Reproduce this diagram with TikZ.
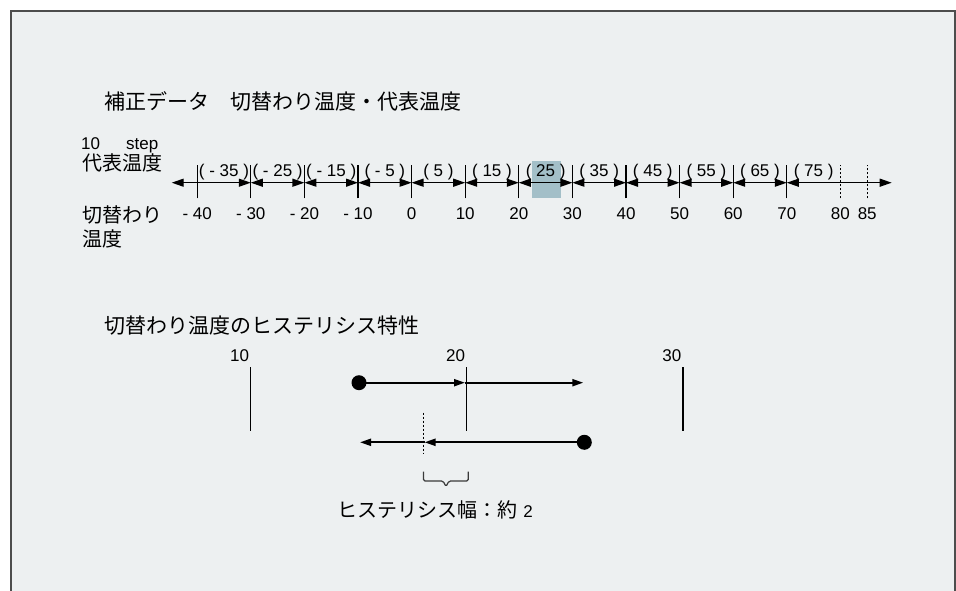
\documentclass[tikz,border=0pt]{standalone}
\usepackage{fontspec}
\setmainfont{Liberation Sans}
\newfontfamily\jp{Noto Sans CJK JP}
\usetikzlibrary{arrows.meta}
\definecolor{bgc}{HTML}{EDF0F1}
\definecolor{framec}{HTML}{4D4D4D}
\definecolor{bracec}{HTML}{3A3A3A}
\definecolor{hl}{HTML}{A3BFC8}
\begin{document}
\begin{tikzpicture}[x=1bp,y=-1bp,
  lat/.style={font=\fontsize{17bp}{20bp}\selectfont, inner sep=0pt, anchor=base},
  latw/.style={lat, anchor=base west},
  jpt/.style={font=\fontsize{20bp}{24bp}\selectfont\jp, inner sep=0pt, anchor=base west},
  jptitle/.style={jpt, font=\fontsize{21bp}{25bp}\selectfont\jp},
  tickline/.style={line width=1.1bp, black},
  dotline/.style={line width=1.1bp, black, dash pattern=on 2bp off 2bp},
  dbl/.style={line width=1.3bp, black, {Triangle[length=12bp,width=8bp]}-{Triangle[length=12bp,width=8bp]}},
  harrow/.style={line width=2bp, black, -{Triangle[length=11bp,width=7bp]}},
  bullet/.style={circle, fill=black, inner sep=0pt, minimum size=15bp}
]
\useasboundingbox (0,0) rectangle (956,591);
\fill[white] (0,0) rectangle (956,591);
\fill[bgc] (11,11) rectangle (955,591);
\draw[framec, line width=1.5bp] (11,591) -- (11,11) -- (955,11) -- (955,591);

% titles
\node[jptitle] (title1) at (104,109.6) {補正データ\hspace{21bp}切替わり温度・代表温度};
\node[latw] (step) at (81,150) {10\hspace{26bp}step};
\node[jpt] (rep) at (82,170.3) {代表温度};
\node[jpt] (sw1) at (82,222.4) {切替わり};
\node[jpt] (sw2) at (82,246.4) {温度};

% number line coordinates: t0=-40 ... t11=70, t12=80, t13=85
\foreach \i in {0,...,13}{
  \pgfmathsetmacro{\tv}{\i<12 ? -40+10*\i : (\i==12 ? 80 : 85)}
  \coordinate (t\i) at ({411.6+5.36*\tv},182.7);
}
\coordinate (L) at (171.7,182.7);
\coordinate (R) at (891.7,182.7);

% highlight (25)
\fill[hl] (532.3,161) rectangle (560.7,197.7);

% ticks
\foreach \i in {0,...,11}{
  \draw[tickline] ([yshift=-15.7bp]t\i) -- ([yshift=17.3bp]t\i);
}
\foreach \i in {12,13}{
  \draw[dotline] ([yshift=-15.7bp]t\i) -- ([yshift=17.3bp]t\i);
}

% interval arrows
\draw[dbl] (L) -- (t1);
\foreach \i [evaluate=\i as \j using int(\i+1)] in {1,...,10}{
  \draw[dbl] (t\i) -- (t\j);
}
\draw[dbl] (t11) -- (R);

% interval labels
\foreach \i/\txt in {0/( - 35 ),1/( - 25 ),2/( - 15 ),3/( - 5 ),4/( 5 ),5/( 15 ),6/( 25 ),7/( 35 ),8/( 45 ),9/( 55 ),10/( 65 ),11/( 75 )}{
  \node[lat] (iv\i) at ({411.6+5.36*(-35+10*\i)},176.7) {\txt};
}

% tick labels
\foreach \i/\txt in {0/- 40,1/- 30,2/- 20,3/- 10,4/0,5/10,6/20,7/30,8/40,9/50,10/60,11/70,12/80,13/85}{
  \path (t\i) ++(0,36.8) node[lat] (tl\i) {\txt};
}

% hysteresis section
\node[jptitle] (title2) at (104,333.6) {切替わり温度のヒステリシス特性};

\coordinate (h10) at (250.7,367);
\coordinate (h20) at (466.7,367);
\coordinate (h30) at (683,367);
\foreach \n in {10,20,30}{
  \draw[tickline] (h\n) -- ++(0,64);
  \path (h\n) ++(-1.5,-5.3) node[lat, anchor=base east] (hl\n) {\n};
}

% upper arrow
\node[bullet] (dotA) at (359,382.7) {};
\coordinate (mA) at (465,382.7);
\coordinate (endA) at (583.3,382.7);
\draw[harrow] (dotA.center) -- (mA);
\draw[harrow] (mA) -- (endA);

% lower arrow
\node[bullet] (dotB) at (584.3,442.3) {};
\coordinate (mB) at (424.5,442.3);
\coordinate (endB) at (360,442.3);
\draw[harrow] (dotB.center) -- (mB);
\draw[harrow] (mB) -- (endB);

% dotted reference line at 18
\coordinate (d18a) at (423.5,412.7);
\coordinate (d18b) at (423.5,453.3);
\draw[dotline] (d18a) -- (d18b);

% brace
\draw[bracec, line width=1.2bp, rounded corners=1.5bp]
  (423.5,471.5) -- (423.5,481) -- (443,481) -- (446,486.5) -- (449,481) -- (468.3,481) -- (468.3,471.5);

\node[lat] (hw) at (435,517) {{\jp\fontsize{20bp}{24bp}\selectfont ヒステリシス幅：約}\hspace{6bp}2};
\end{tikzpicture}
\end{document}
